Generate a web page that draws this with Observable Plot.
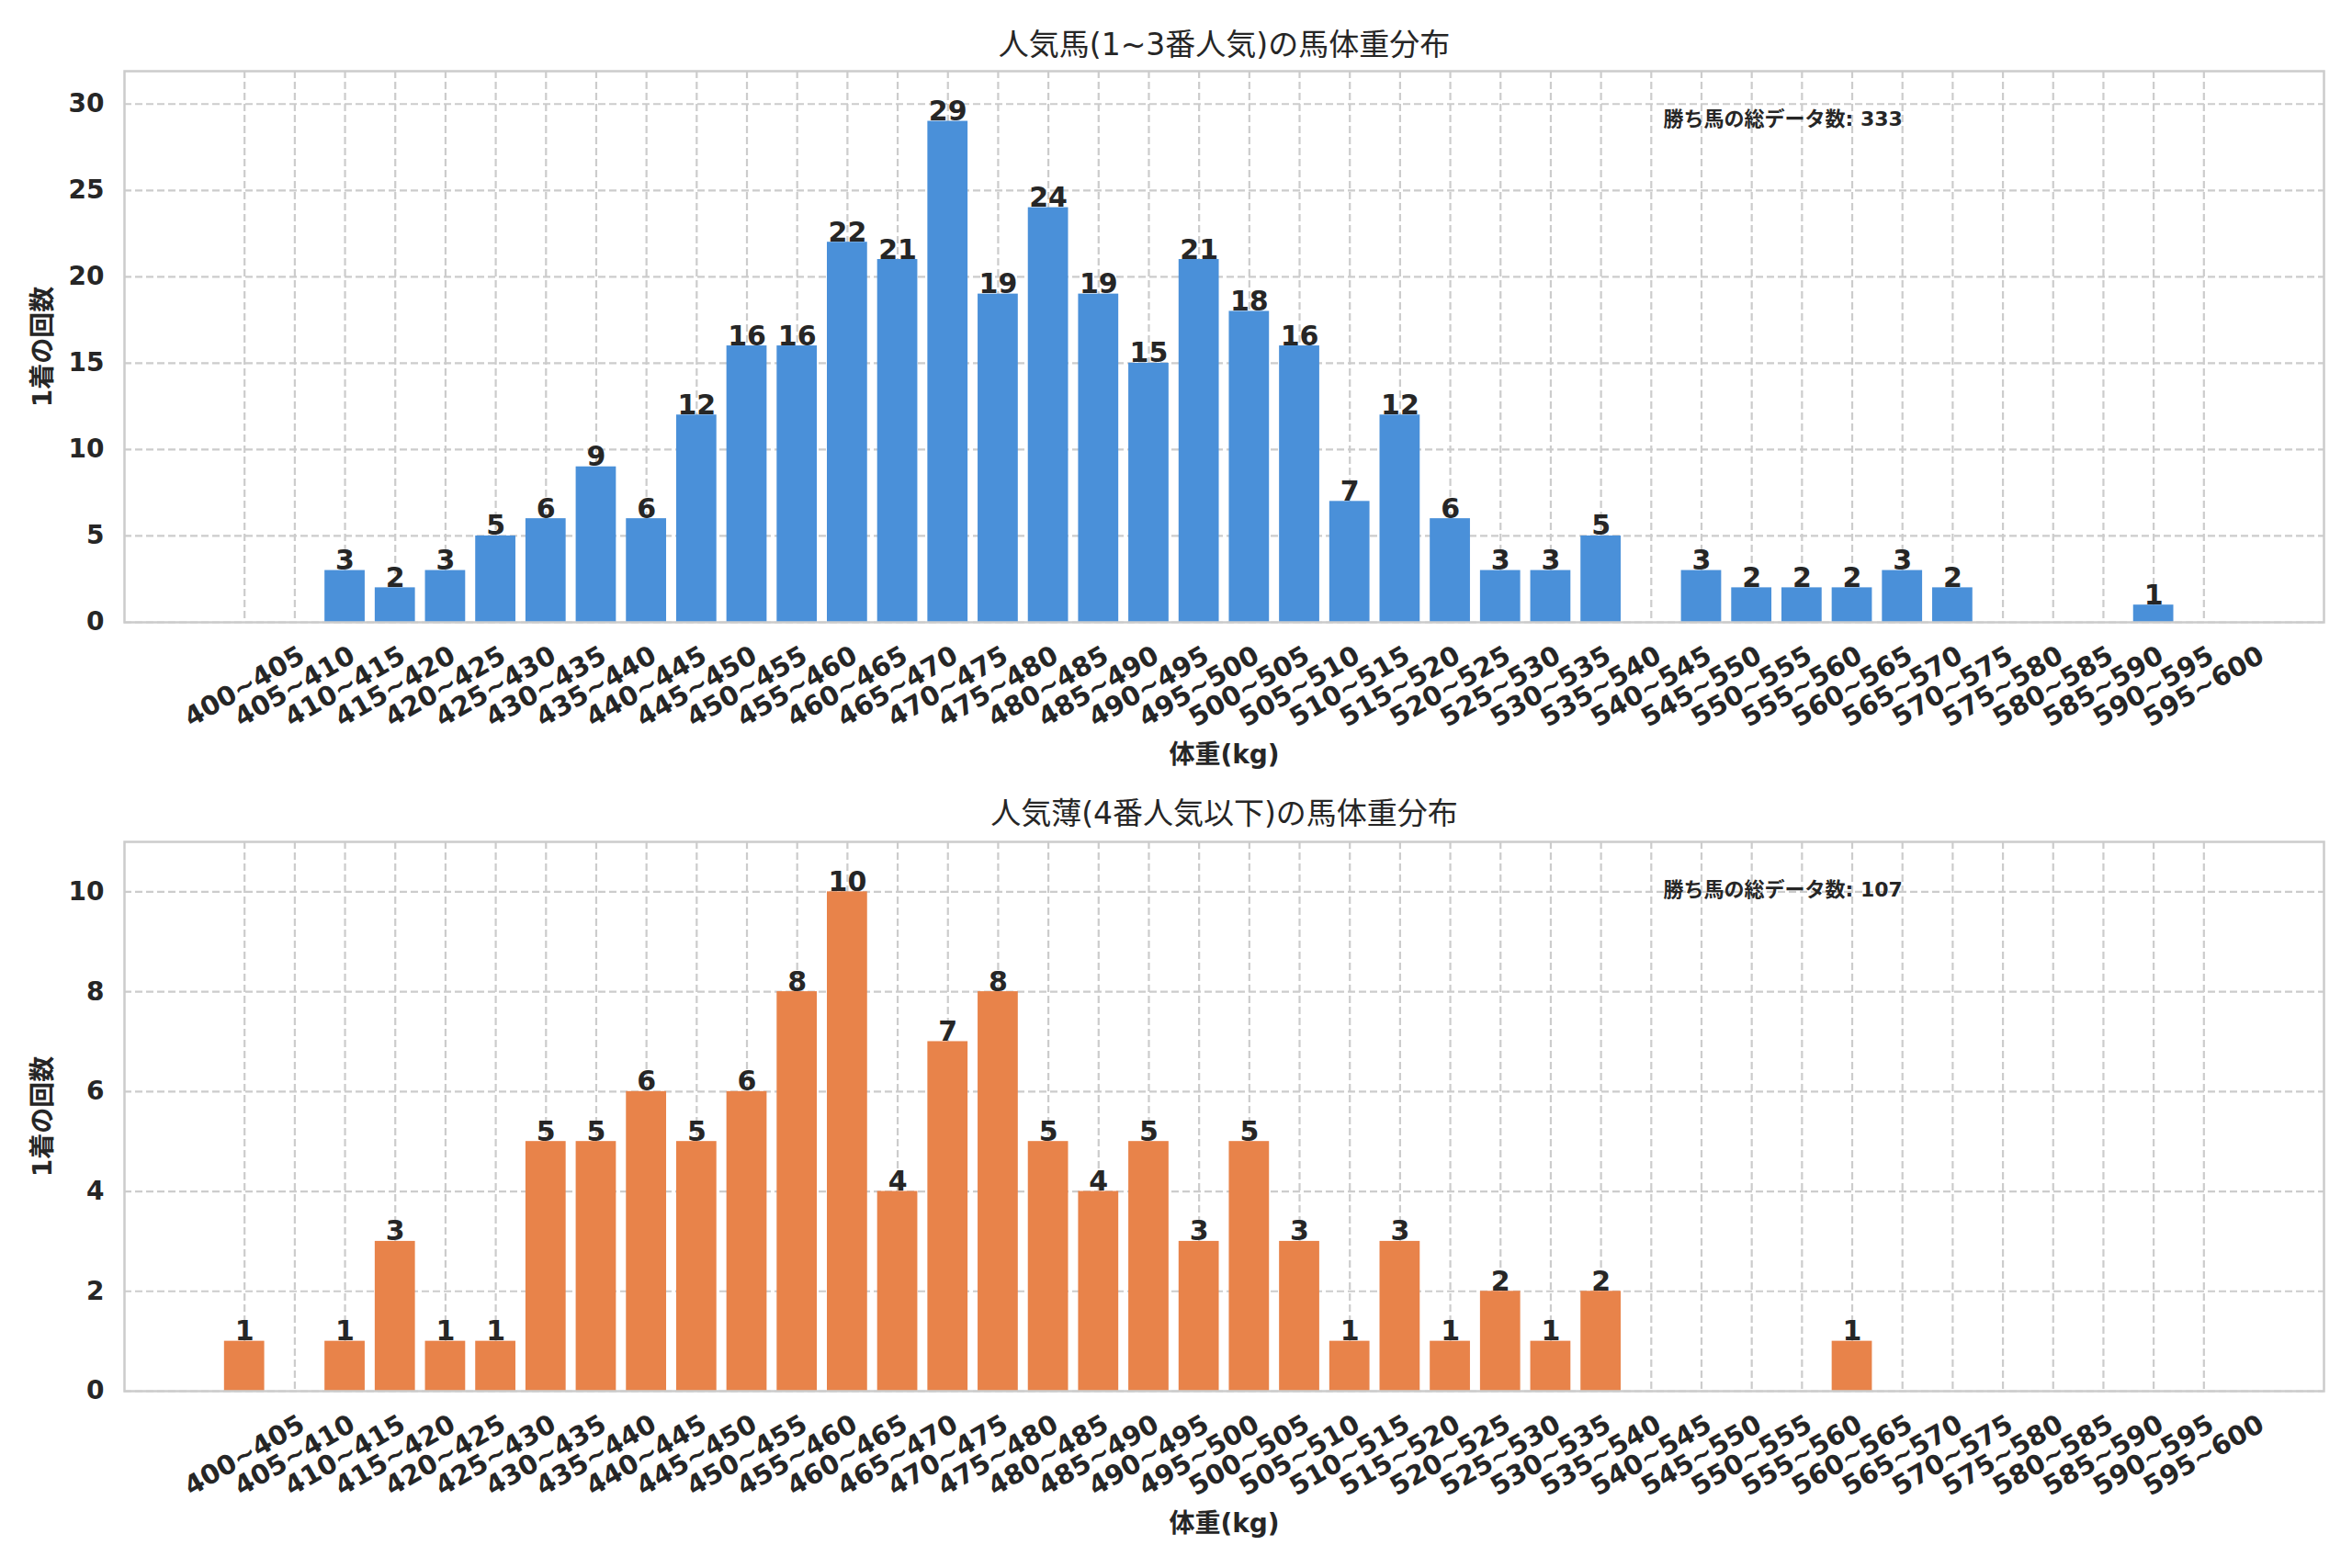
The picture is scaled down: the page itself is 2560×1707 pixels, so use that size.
<!DOCTYPE html>
<html><head><meta charset="utf-8">
<script src="https://cdn.jsdelivr.net/npm/d3@7"></script>
<script src="https://cdn.jsdelivr.net/npm/@observablehq/plot@0.6"></script>
<style>
body{margin:0;background:#fff;}
#chart{width:2560px;height:1707px;background:#fff;}
#chart svg{display:block;}
</style></head><body><div id="chart"></div>
<script>
const categories = ["400~405","405~410","410~415","415~420","420~425","425~430","430~435","435~440","440~445","445~450",
  "450~455","455~460","460~465","465~470","470~475","475~480","480~485","485~490","490~495","495~500",
  "500~505","505~510","510~515","515~520","520~525","525~530","530~535","535~540","540~545","545~550",
  "550~555","555~560","560~565","565~570","570~575","575~580","580~585","585~590","590~595","595~600"];
const countsPopular = [0,0,3,2,3,5,6,9,6,12, 16,16,22,21,29,19,24,19,15,21, 18,16,7,12,6,3,3,5,0,3, 2,2,2,3,2,0,0,0,1,0];
const countsLongshot = [1,0,1,3,1,1,5,5,6,5, 6,8,10,4,7,8,5,4,5,3, 5,3,1,3,1,2,1,2,0,0, 0,0,1,0,0,0,0,0,0,0];
const yTicksTop = [0,5,10,15,20,25,30];
const yTicksBottom = [0,2,4,6,8,10];
const titleTop = "人気馬(1~3番人気)の馬体重分布";
const titleBottom = "人気薄(4番人気以下)の馬体重分布";
const xLabel = "体重(kg)";
const yLabel = "1着の回数";
const totalLabel = "勝ち馬の総データ数";
const colorTop = "#4a90d9";
const colorBottom = "#e8834a";

const FONT = "'DejaVu Sans', 'Noto Sans CJK JP', sans-serif";
const INK = "#262626";

function panel({counts, color, title, yMax, yTicks, height, marginTop, marginBottom, titleDy}) {
  const data = categories.map((c, i) => ({bin: c, count: counts[i]}));
  const total = d3.sum(counts);
  return Plot.plot({
    width: 2560,
    height,
    marginLeft: 135,
    marginRight: 31,
    marginTop,
    marginBottom,
    style: {fontFamily: FONT, fontSize: "26px", color: INK, background: "#fff", overflow: "visible"},
    x: {type: "band", domain: categories, paddingInner: 0.2, paddingOuter: 1.99, align: 0.5, round: false, axis: null},
    y: {domain: [0, yMax], axis: null},
    marks: [
      Plot.gridY(yTicks, {stroke: "#cccccc", strokeOpacity: 1, strokeWidth: 2.2, strokeDasharray: "8,4"}),
      Plot.gridX(categories, {stroke: "#cccccc", strokeOpacity: 1, strokeWidth: 2.2, strokeDasharray: "8,4"}),
      Plot.barY(data, {x: "bin", y: "count", fill: color}),
      Plot.text(data.filter(d => d.count > 0), {x: "bin", y: "count", text: d => String(d.count), lineAnchor: "bottom", dy: -1, fontSize: 30, fontWeight: "bold", fill: INK}),
      Plot.frame({stroke: "#cccccc", strokeWidth: 2.5}),
      Plot.axisY(yTicks, {tickSize: 0, tickPadding: 22, tickFormat: d3.format("d"), fontSize: 28, fontWeight: "bold", fill: INK, label: null}),
      Plot.text(categories, {x: d => d, frameAnchor: "bottom", dy: 70, rotate: -30, textAnchor: "middle", lineAnchor: "middle", fontSize: 29, fontWeight: "bold", fill: INK}),
      Plot.text([xLabel], {frameAnchor: "bottom", dy: 145, lineAnchor: "middle", fontSize: 28, fontWeight: "bold", fill: INK}),
      Plot.text([yLabel], {frameAnchor: "left", dx: -88, rotate: -90, textAnchor: "middle", lineAnchor: "middle", fontSize: 28, fontWeight: "bold", fill: INK}),
      Plot.text([title], {frameAnchor: "top", dy: titleDy, lineAnchor: "middle", fontSize: 33, fontWeight: "normal", fill: INK}),
      Plot.text([`${totalLabel}: ${total}`], {frameAnchor: "top-left", dx: 1675, dy: 52, textAnchor: "start", lineAnchor: "middle", fontSize: 22, fontWeight: "bold", fill: INK})
    ]
  });
}

const chart = document.getElementById("chart");
chart.append(panel({counts: countsPopular, color: colorTop, title: titleTop, yMax: 31.9, yTicks: yTicksTop,
  height: 853, marginTop: 77, marginBottom: 176, titleDy: -28}));
chart.append(panel({counts: countsLongshot, color: colorBottom, title: titleBottom, yMax: 11, yTicks: yTicksBottom,
  height: 854, marginTop: 63, marginBottom: 193, titleDy: -30}));
</script>
</body></html>
